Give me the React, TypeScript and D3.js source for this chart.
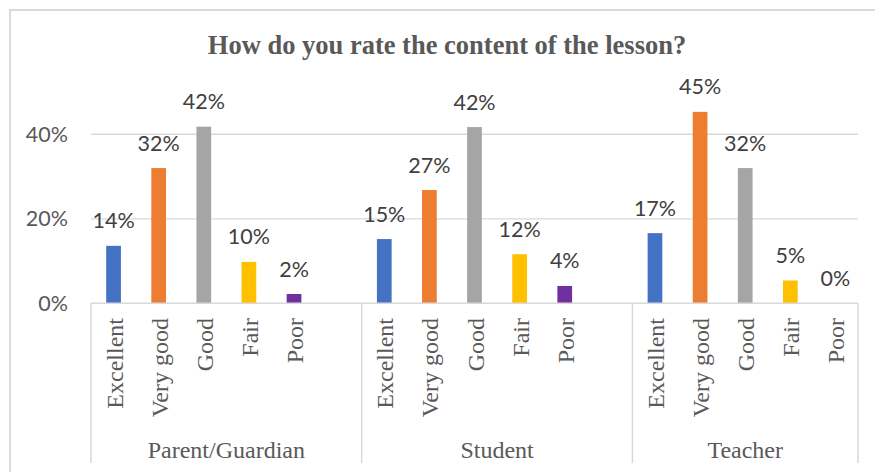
import React from "react";
import * as d3 from "d3";

const title = "How do you rate the content of the lesson?";
const groups = ["Parent/Guardian", "Student", "Teacher"];
const ratings = ["Excellent", "Very good", "Good", "Fair", "Poor"];
const parentValues = [0.136, 0.32, 0.418, 0.098, 0.022];
const studentValues = [0.152, 0.268, 0.417, 0.116, 0.041];
const teacherValues = [0.166, 0.453, 0.32, 0.054, 0];
const blankSlots = [1, 1, 0];
const yTicks = [0, 0.2, 0.4];
const colors = ["#4472C4", "#ED7D31", "#A5A5A5", "#FFC000", "#7030A0"];

const groupValues = [parentValues, studentValues, teacherValues];

type Slot = { id: string; group: number; cat: number; value: number | null; label: string };

const slots: Slot[] = [];
groups.forEach((g, gi) => {
  ratings.forEach((r, ri) => {
    slots.push({ id: `${gi}|${ri}`, group: gi, cat: ri, value: groupValues[gi][ri], label: r });
  });
  for (let b = 0; b < blankSlots[gi]; b++) {
    slots.push({ id: `${gi}|blank${b}`, group: gi, cat: -1, value: null, label: "" });
  }
});

const W = 875;
const H = 472;
const plotLeft = 91;
const plotRight = 858;
const y0 = 303.3;
const yTop = 92;
const axisBottom = 463;

export default function App() {
  const x = d3.scaleBand<string>().domain(slots.map((s) => s.id)).range([plotLeft, plotRight]).paddingInner(0).paddingOuter(0);
  const y = d3.scaleLinear().domain([0, 0.5]).range([y0, yTop]);
  const bw = x.bandwidth() * 0.326;
  const fmt = d3.format(".0%");

  const groupBounds = groups.map((g, gi) => {
    const ids = slots.filter((s) => s.group === gi).map((s) => s.id);
    const start = x(ids[0])!;
    const end = x(ids[ids.length - 1])! + x.bandwidth();
    return { name: g, start, end };
  });
  const boundaries = [groupBounds[0].start, ...groupBounds.map((b) => b.end)];

  const serif = "'Liberation Serif', 'Times New Roman', serif";
  const sans = "Lato, 'Open Sans', sans-serif";

  return (
    <svg width={W} height={H} style={{ position: "absolute", left: 0, top: 0, background: "#fff" }}>
      <rect x={0} y={0} width={W} height={H} fill="#fff" />
      {/* chart border */}
      <path d={`M10,${H + 5} L10,10 L${W + 5},10`} fill="none" stroke="#d9d9d9" strokeWidth={1.8} />
      {/* title */}
      <text x={447} y={54} textAnchor="middle" fontFamily={serif} fontWeight="bold" fontSize={26.5} fill="#595959">
        {title}
      </text>
      {/* gridlines */}
      {yTicks.filter((t) => t > 0).map((t) => (
        <line key={t} x1={plotLeft} x2={plotRight} y1={y(t)} y2={y(t)} stroke="#d9d9d9" strokeWidth={1.3} />
      ))}
      {/* y tick labels */}
      {yTicks.map((t) => (
        <text key={t} x={68} y={y(t)} dy="0.35em" textAnchor="end" fontFamily={sans} fontSize={21.5} fill="#595959">
          {fmt(t)}
        </text>
      ))}
      {/* bars */}
      {slots.filter((s) => s.value !== null).map((s) => {
        const cx = x(s.id)! + x.bandwidth() / 2;
        const v = s.value as number;
        return (
          <g key={s.id}>
            {v > 0 && <rect x={cx - bw / 2} y={y(v)} width={bw} height={y0 - y(v)} fill={colors[s.cat]} />}
            <text x={cx} y={y(v) - 17.5} textAnchor="middle" fontFamily={sans} fontSize={21.5} fill="#404040">
              {fmt(v)}
            </text>
          </g>
        );
      })}
      {/* axis line */}
      <line x1={plotLeft} x2={plotRight} y1={y0} y2={y0} stroke="#d9d9d9" strokeWidth={1.5} />
      {boundaries.map((b, i) => (
        <line key={i} x1={b} x2={b} y1={y0} y2={axisBottom} stroke="#d9d9d9" strokeWidth={1.5} />
      ))}
      {/* category labels */}
      {slots.filter((s) => s.label).map((s) => {
        const cx = x(s.id)! + x.bandwidth() / 2;
        return (
          <text key={s.id} transform={`translate(${cx + 9},318) rotate(-90)`} textAnchor="end" fontFamily={serif} fontSize={24} fill="#595959">
            {s.label}
          </text>
        );
      })}
      {/* group labels */}
      {groupBounds.map((g) => (
        <text key={g.name} x={(g.start + g.end) / 2} y={457.7} textAnchor="middle" fontFamily={serif} fontSize={24} fill="#595959">
          {g.name}
        </text>
      ))}
    </svg>
  );
}
